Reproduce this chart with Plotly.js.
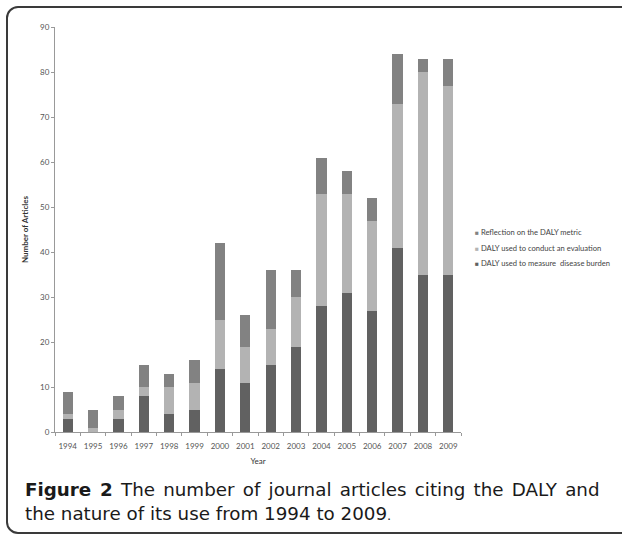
<!DOCTYPE html>
<html>
<head>
<meta charset="utf-8">
<script src="https://cdn.plot.ly/plotly-3.0.1.min.js"></script>
<style>
  html, body { margin: 0; padding: 0; background: #fff; overflow: hidden; }
  #frame { position: absolute; left: 6px; top: 6px; width: 700px; height: 528px;
           border: 2px solid #3a3a3a; border-radius: 12px; box-sizing: border-box; }
  #chart { position: absolute; left: 0; top: 0; width: 622px; height: 537px; }
</style>
</head>
<body>
<div id="frame"></div>
<div id="chart"></div>
<script>
const years = ['1994','1995','1996','1997','1998','1999','2000','2001','2002','2003','2004','2005','2006','2007','2008','2009'];
const burden     = [3, 0, 3, 8, 4, 5, 14, 11, 15, 19, 28, 31, 27, 41, 35, 35];
const evaluation = [1, 1, 2, 2, 6, 6, 11, 8, 8, 11, 25, 22, 20, 32, 45, 42];
const reflection = [5, 4, 3, 5, 3, 5, 17, 7, 13, 6, 8, 5, 5, 11, 3, 6];
const yTicks = [0, 10, 20, 30, 40, 50, 60, 70, 80, 90];
const seriesNames = ['DALY used to measure\u00a0 disease burden', 'DALY used to conduct an evaluation', 'Reflection on the DALY metric'];
const seriesColors = ['#616161', '#b3b3b3', '#828282'];
const seriesValues = [burden, evaluation, reflection];

const traces = seriesValues.map((vals, i) => ({
  type: 'bar', name: seriesNames[i], x: years, y: vals,
  marker: { color: seriesColors[i] }
}));

// legend drawn as text entries (top: last series)
const legendY = [0.417, 0.455, 0.494];
const legendAnn = seriesNames.map((n, i) => ({
  xref: 'paper', yref: 'paper', x: 1.03, y: legendY[i], xanchor: 'left', yanchor: 'middle',
  showarrow: false, align: 'left',
  text: '<span style="color:' + seriesColors[i] + ';font-size:6.5px">\u25A0</span> ' + n,
  font: { family: 'Lato, sans-serif', size: 7.6, color: '#444' }
}));

const layout = {
  width: 622, height: 537,
  margin: { l: 55, r: 161, t: 27, b: 105 },
  paper_bgcolor: 'rgba(0,0,0,0)', plot_bgcolor: 'rgba(0,0,0,0)',
  barmode: 'stack', bargap: 0.6,
  font: { family: 'Lato, "Open Sans", sans-serif', color: '#555', size: 8 },
  showlegend: false,
  xaxis: {
    type: 'category', tickson: 'boundaries', ticks: 'outside', ticklen: 3, tickangle: 0,
    ticklabelstandoff: 6,
    tickcolor: '#999', showline: true, linecolor: '#999', linewidth: 1,
    showgrid: false, tickfont: { size: 8, color: '#555' },
    title: { text: 'Year', font: { size: 8, color: '#333' }, standoff: 8 }
  },
  yaxis: {
    range: [0, 90], tickvals: yTicks, ticks: 'outside', ticklen: 3, tickcolor: '#999',
    showline: true, linecolor: '#999', linewidth: 1, showgrid: false, zeroline: false,
    tickfont: { size: 8, color: '#555' },
    title: { text: '<b>Number of Articles</b>', font: { size: 8, color: '#333' }, standoff: 10 }
  },
  annotations: legendAnn.concat([
    { xref: 'paper', yref: 'paper', x: -0.079, y: -0.110, xanchor: 'left', yanchor: 'top',
      showarrow: false, align: 'left',
      text: '<span style="word-spacing:2.4px"><b>Figure 2</b> The number of journal articles citing the DALY and</span><br>the nature of its use from 1994 to 2009<span style="font-size:13px">.</span>',
      font: { family: '"DejaVu Sans", sans-serif', size: 18.3, color: '#1a1a1a' } }
  ])
};

Plotly.newPlot('chart', traces, layout, { displayModeBar: false, staticPlot: true });
</script>
</body>
</html>
